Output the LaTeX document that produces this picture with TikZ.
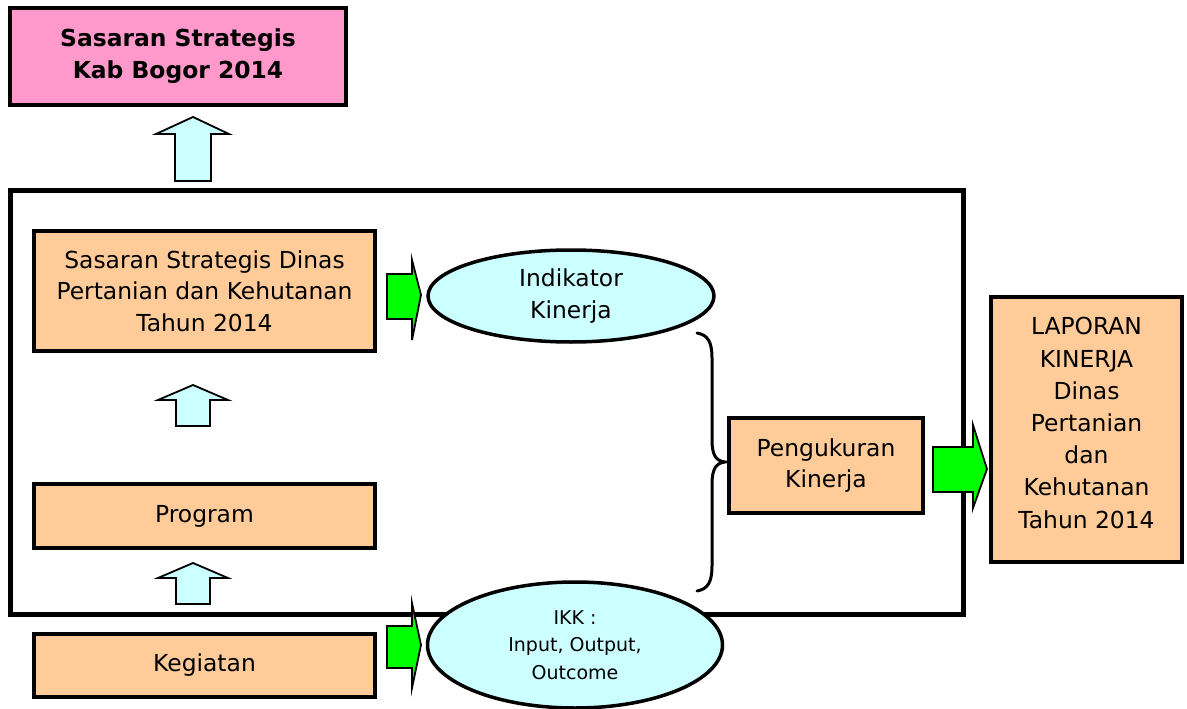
\documentclass[tikz,border=0pt]{standalone}
\usepackage{fontspec}
\setmainfont{DejaVu Sans}
\usetikzlibrary{shapes.geometric}
\definecolor{peach}{HTML}{FFCC99}
\definecolor{lcyan}{HTML}{CCFFFF}
\definecolor{pinkc}{HTML}{FF99CC}
\definecolor{gr}{HTML}{00FF00}
\tikzset{
  box/.style={draw=black, line width=3.5pt, fill=peach, align=center, inner sep=0pt,
    font=\fontsize{23.4}{31.5}\selectfont},
  ell/.style={draw=black, line width=3.5pt, fill=lcyan, ellipse, align=center, inner sep=0pt},
  uparrow/.style={draw=black, line width=1.8pt, fill=lcyan, line join=miter},
  garrow/.style={draw=black, line width=1.8pt, fill=gr, line join=miter},
  frame/.style={draw=black, line width=5pt},
  bracel/.style={draw=black, line width=3pt, line cap=round},
  txt/.style={align=center, inner sep=0pt, font=\fontsize{23.4}{32.2}\selectfont}
}
\begin{document}
\begin{tikzpicture}[x=1pt,y=-1pt]
\useasboundingbox (0,0) rectangle (1187,709);
% top pink box
\node[box, fill=pinkc, minimum width=336pt, minimum height=97pt,
  font=\bfseries\fontsize{23.4}{32}\selectfont] (top) at (178,56.5) {Sasaran Strategis\\Kab Bogor 2014};
% up arrow to top
\draw[uparrow] (175,181) -- (175,134) -- (156,134) -- (193,117) -- (229,134) -- (211,134) -- (211,181) -- cycle;
% frame
\draw[frame] (10,190) rectangle (963,614);
% left boxes
\node[box, minimum width=341pt, minimum height=120pt] (ssd) at (204.5,291) {Sasaran Strategis Dinas\\Pertanian dan Kehutanan\\Tahun 2014};
\node[box, minimum width=341pt, minimum height=64pt] (prog) at (204.5,516) {Program};
\node[box, minimum width=341pt, minimum height=63pt] (keg) at (204.5,665.5) {Kegiatan};
% up arrows between boxes
\draw[uparrow] (176,426) -- (176,400) -- (158,400) -- (193,385) -- (228,400) -- (210,400) -- (210,426) -- cycle;
\draw[uparrow] (176,604) -- (176,578) -- (158,578) -- (193,563) -- (228,578) -- (210,578) -- (210,604) -- cycle;
% ellipses
\node[ell, minimum width=286pt, minimum height=92pt, font=\fontsize{23.4}{32}\selectfont] (ik) at (571,296) {Indikator\\Kinerja};
\node[ell, minimum width=295pt, minimum height=126pt, font=\fontsize{19}{27.5}\selectfont] (ikk) at (575,645) {IKK :\\Input, Output,\\Outcome};
% green arrows
\draw[garrow] (387,274) -- (412,274) -- (412,260) -- (421,295) -- (412,340) -- (412,319) -- (387,319) -- cycle;
\draw[garrow] (387,626) -- (412,626) -- (412,603) -- (421,645) -- (412,688) -- (412,668) -- (387,668) -- cycle;
% brace
\draw[bracel] (697,333) .. controls (708,335) and (712,342) .. (712,358)
  -- (712,440) .. controls (712,455) and (716,461) .. (725,462)
  .. controls (716,463) and (712,469) .. (712,484)
  -- (712,566) .. controls (712,582) and (708,589) .. (697,591);
% pengukuran
\node[box, minimum width=194pt, minimum height=95pt] (pk) at (826,465.5) {Pengukuran\\Kinerja};
\draw[garrow] (933,447) -- (973,447) -- (973,425) -- (987,469) -- (973,508) -- (973,492) -- (933,492) -- cycle;
% laporan
\node[box, minimum width=191pt, minimum height=265pt] (lap) at (1086.5,429.5) {};
\node[txt] (laptxt) at (1086.5,423) {LAPORAN\\KINERJA\\Dinas\\Pertanian\\dan\\Kehutanan\\Tahun 2014};
\end{tikzpicture}
\end{document}
